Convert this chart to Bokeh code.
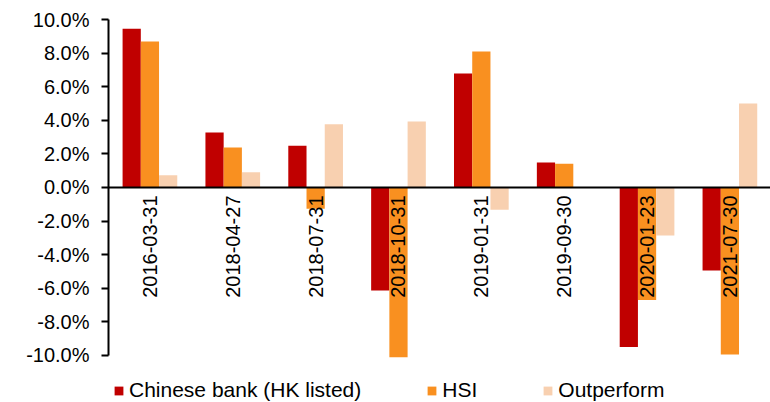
import math
from bokeh.plotting import figure
from bokeh.models import (Range1d, FixedTicker, PrintfTickFormatter, Span,
                          ColumnDataSource, Legend, LegendItem)
from bokeh.core.properties import value
from bokeh.transform import dodge
from bokeh.embed import file_html
from bokeh.resources import INLINE

dates = ["2016-03-31", "2018-04-27", "2018-07-31", "2018-10-31",
         "2019-01-31", "2019-09-30", "2020-01-23", "2021-07-30"]
chinese_bank = [9.45, 3.27, 2.48, -6.13, 6.79, 1.49, -9.50, -4.94]
hsi = [8.69, 2.38, -1.27, -10.10, 8.10, 1.41, -6.70, -9.94]
outperform = [0.73, 0.91, 3.77, 3.93, -1.33, 0.0, -2.86, 5.00]
y_ticks = [-10, -8, -6, -4, -2, 0, 2, 4, 6, 8, 10]

FONT = "Liberation Sans"
RED = "#C00000"
ORANGE = "#F99020"
LIGHT = "#F8D0B0"

idx = list(range(len(dates)))
src = ColumnDataSource(dict(x=idx, label=dates, cb=chinese_bank,
                            hsi=hsi, out=outperform, zero=[0] * len(dates)))

# frame spans to the bottom of the figure so the legend sits inside it
p = figure(width=770, height=402, output_backend="svg", toolbar_location=None,
           x_range=Range1d(-0.5, 7.49), y_range=Range1d(-12.8, 10),
           min_border_left=108, min_border_right=0, min_border_top=19,
           min_border_bottom=0)
p.outline_line_color = None
p.grid.visible = False
p.xaxis.visible = False
p.background_fill_color = "white"
p.border_fill_color = "white"

bw = 0.22
r1 = p.vbar(x=dodge("x", -bw, range=p.x_range), top="cb", width=bw, source=src,
            fill_color=RED, line_color=None)
r2 = p.vbar(x=dodge("x", 0, range=p.x_range), top="hsi", width=bw, source=src,
            fill_color=ORANGE, line_color=None)
r3 = p.vbar(x=dodge("x", bw, range=p.x_range), top="out", width=bw, source=src,
            fill_color=LIGHT, line_color=None)

p.add_layout(Span(location=0, dimension="width", line_color="black", line_width=2))

p.text(x="x", y="zero", text="label", source=src, angle=math.pi / 2,
       text_align="right", text_baseline="middle", y_offset=8,
       text_font=value(FONT), text_font_size="20px", text_color="black")

ya = p.yaxis[0]
ya.ticker = FixedTicker(ticks=y_ticks)
ya.formatter = PrintfTickFormatter(format="%.1f%%")
ya.bounds = (-10, 10)
ya.axis_line_color = "black"
ya.axis_line_width = 2
ya.major_tick_line_color = "black"
ya.major_tick_line_width = 2
ya.major_tick_out = 7
ya.major_tick_in = 0
ya.minor_tick_line_color = None
ya.major_label_standoff = 12
ya.major_label_text_font = FONT
ya.major_label_text_font_size = "20px"
ya.major_label_text_color = "black"

legend = Legend(items=[LegendItem(label="Chinese bank (HK listed)", renderers=[r1]),
                       LegendItem(label="HSI", renderers=[r2]),
                       LegendItem(label="Outperform", renderers=[r3])],
                orientation="horizontal", location=(5, 0),
                glyph_width=11, glyph_height=11, label_standoff=5, spacing=65,
                padding=0, margin=0, border_line_color=None,
                background_fill_alpha=0, label_text_font=FONT,
                label_text_font_size="21px", label_text_color="black",
                label_height=11)
p.add_layout(legend, "center")

open("out.html", "w").write(file_html(p, INLINE))
